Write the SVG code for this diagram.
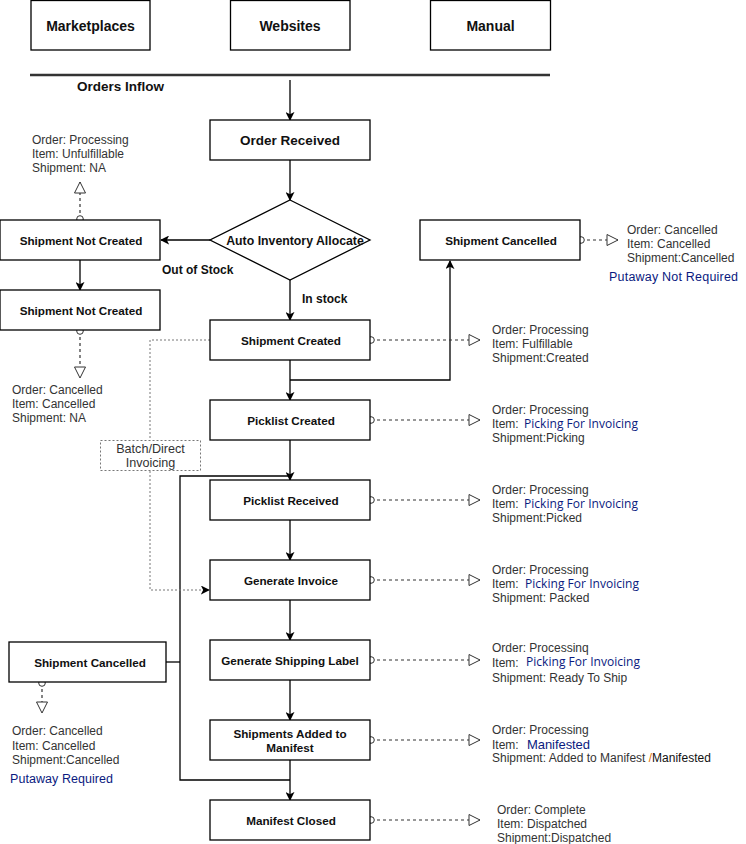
<svg xmlns="http://www.w3.org/2000/svg" width="746" height="844" viewBox="0 0 746 844">
<style>
.box{fill:#fff;stroke:#000;stroke-width:1.3}
.lbl{font-family:"Liberation Sans",Arial,sans-serif;font-weight:bold;font-size:11.7px;fill:#111;text-anchor:middle}
.big{font-size:14px}
.st{font-family:"Liberation Sans",Arial,sans-serif;font-size:12px;fill:#333}
.blue{font-family:"Open Sans","Noto Sans",sans-serif;font-size:12px;fill:#0a1a80}
.blue2{font-family:"Liberation Sans",Arial,sans-serif;font-size:12.5px;fill:#0a1a80}
.flow{fill:none;stroke:#000;stroke-width:1.3}
.dash{fill:none;stroke:#333;stroke-width:1.2;stroke-dasharray:3,3}
.dot{fill:none;stroke:#777;stroke-width:1;stroke-dasharray:2,2}
.bold{font-family:"Liberation Sans",Arial,sans-serif;font-weight:bold;font-size:12px;fill:#111}
</style>
<defs>
<marker id="arr" viewBox="0 0 10 10" refX="9" refY="5" markerWidth="9" markerHeight="9" markerUnits="userSpaceOnUse" orient="auto">
<path d="M0,0 L10,5 L0,10 L2.5,5 z" fill="#000"/>
</marker>
<marker id="tri" viewBox="0 0 13 13" refX="12" refY="6.5" markerWidth="13" markerHeight="13" markerUnits="userSpaceOnUse" orient="auto">
<path d="M1,1 L12,6.5 L1,12 z" fill="#fff" stroke="#333" stroke-width="1"/>
</marker>
<marker id="circ" viewBox="0 0 9 9" refX="4.5" refY="4.5" markerWidth="9" markerHeight="9" markerUnits="userSpaceOnUse" orient="auto">
<circle cx="4.5" cy="4.5" r="3.3" fill="#fff" stroke="#333" stroke-width="1"/>
</marker>
</defs>
<rect width="746" height="844" fill="#fff"/>

<g id="connectors">
<line x1="30" y1="75" x2="550" y2="75" stroke="#333" stroke-width="2.6"/>
<line class="flow" x1="290" y1="80" x2="290" y2="120" marker-end="url(#arr)"/>
<line class="flow" x1="290" y1="160" x2="290" y2="200" marker-end="url(#arr)"/>
<line class="flow" x1="210" y1="240" x2="161" y2="240" marker-end="url(#arr)"/>
<line class="flow" x1="80" y1="260" x2="80" y2="290" marker-end="url(#arr)"/>
<line class="flow" x1="290" y1="280" x2="290" y2="320" marker-end="url(#arr)"/>
<line class="flow" x1="290" y1="360" x2="290" y2="400" marker-end="url(#arr)"/>
<path class="flow" d="M290,380 H450 V261" marker-end="url(#arr)"/>
<line class="flow" x1="290" y1="440" x2="290" y2="480" marker-end="url(#arr)"/>
<path class="flow" d="M290,476 H180 V780 H290"/>
<line class="flow" x1="166" y1="662" x2="180" y2="662"/>
<line class="flow" x1="290" y1="520" x2="290" y2="560" marker-end="url(#arr)"/>
<line class="flow" x1="290" y1="600" x2="290" y2="640" marker-end="url(#arr)"/>
<line class="flow" x1="290" y1="680" x2="290" y2="720" marker-end="url(#arr)"/>
<line class="flow" x1="290" y1="760" x2="290" y2="800" marker-end="url(#arr)"/>
<path class="dot" d="M210,340 H150 V440"/>
<path class="dot" d="M150,471 V590 H209" marker-end="url(#arr)"/>
<line class="dash" x1="80" y1="219" x2="80" y2="182" marker-start="url(#circ)" marker-end="url(#tri)"/>
<line class="dash" x1="80" y1="331" x2="80" y2="378" marker-start="url(#circ)" marker-end="url(#tri)"/>
<line class="dash" x1="371" y1="340" x2="480" y2="340" marker-start="url(#circ)" marker-end="url(#tri)"/>
<line class="dash" x1="581" y1="240" x2="618" y2="240" marker-start="url(#circ)" marker-end="url(#tri)"/>
<line class="dash" x1="371" y1="420" x2="480" y2="420" marker-start="url(#circ)" marker-end="url(#tri)"/>
<line class="dash" x1="371" y1="500" x2="480" y2="500" marker-start="url(#circ)" marker-end="url(#tri)"/>
<line class="dash" x1="371" y1="580" x2="480" y2="580" marker-start="url(#circ)" marker-end="url(#tri)"/>
<line class="dash" x1="371" y1="660" x2="480" y2="660" marker-start="url(#circ)" marker-end="url(#tri)"/>
<line class="dash" x1="371" y1="740" x2="480" y2="740" marker-start="url(#circ)" marker-end="url(#tri)"/>
<line class="dash" x1="371" y1="820" x2="480" y2="820" marker-start="url(#circ)" marker-end="url(#tri)"/>
<line class="dash" x1="42" y1="683" x2="42" y2="713" marker-start="url(#circ)" marker-end="url(#tri)"/>
</g>

<g id="marketplaces"><rect class="box" x="31" y="0.5" width="119" height="49.5"/><text class="lbl big" x="90.5" y="31">Marketplaces</text></g>
<g id="websites"><rect class="box" x="230.5" y="0.5" width="119.5" height="49.5"/><text class="lbl big" x="290" y="31">Websites</text></g>
<g id="manual"><rect class="box" x="430.5" y="0.5" width="120" height="49.5"/><text class="lbl big" x="490.5" y="31">Manual</text></g>
<text class="bold" x="77" y="91" style="font-size:13.5px">Orders Inflow</text>

<g id="order-received"><rect class="box" x="210" y="120" width="160" height="40"/><text class="lbl" style="font-size:13.5px" x="290" y="145">Order Received</text></g>
<g id="auto-inventory"><polygon class="box" points="290,200 370,240 290,280 210,240"/><text class="lbl" style="font-size:12.3px" x="295" y="244.5">Auto Inventory Allocate</text></g>
<text class="bold" x="162" y="274">Out of Stock</text>
<text class="bold" x="302" y="303">In stock</text>

<g id="not-created-1"><rect class="box" x="0" y="220" width="160" height="40"/><text class="lbl" x="81" y="244.5">Shipment Not Created</text></g>
<g id="not-created-2"><rect class="box" x="0" y="290" width="160" height="40"/><text class="lbl" x="81" y="314.5">Shipment Not Created</text></g>
<text class="st" x="32" y="144">Order: Processing</text>
<text class="st" x="32" y="158">Item: Unfulfillable</text>
<text class="st" x="32" y="172">Shipment: NA</text>
<text class="st" x="12" y="394">Order: Cancelled</text>
<text class="st" x="12" y="408">Item: Cancelled</text>
<text class="st" x="12" y="422">Shipment: NA</text>

<g id="shipment-cancelled-right"><rect class="box" x="420" y="220" width="160" height="40"/><text class="lbl" x="501" y="244.5">Shipment Cancelled</text></g>
<text class="st" x="627" y="234">Order: Cancelled</text>
<text class="st" x="627" y="248">Item: Cancelled</text>
<text class="st" x="627" y="262">Shipment:Cancelled</text>
<text class="blue2" x="609" y="281" textLength="129">Putaway Not Required</text>

<g id="shipment-created"><rect class="box" x="210" y="320" width="160" height="40"/><text class="lbl" x="291" y="344.5">Shipment Created</text></g>
<text class="st" x="492" y="334">Order: Processing</text>
<text class="st" x="492" y="348">Item: Fulfillable</text>
<text class="st" x="492" y="362">Shipment:Created</text>

<g id="batch-direct"><rect x="100.5" y="440.5" width="100" height="30" fill="#fff" stroke="#777" stroke-width="1" stroke-dasharray="2,2"/><text class="st" x="150.5" y="453" text-anchor="middle" fill="#222" style="font-size:12.6px">Batch/Direct</text><text class="st" x="150.5" y="467" text-anchor="middle" fill="#222" style="font-size:12.6px">Invoicing</text></g>

<g id="picklist-created"><rect class="box" x="210" y="400" width="160" height="40"/><text class="lbl" x="291" y="424.5">Picklist Created</text></g>
<text class="st" x="492" y="414">Order: Processing</text>
<text class="st" x="492" y="428">Item:</text><text class="blue" x="524" y="428" textLength="114">Picking For Invoicing</text>
<text class="st" x="492" y="442">Shipment:Picking</text>

<g id="picklist-received"><rect class="box" x="210" y="480" width="160" height="40"/><text class="lbl" x="291" y="504.5">Picklist Received</text></g>
<text class="st" x="492" y="494">Order: Processing</text>
<text class="st" x="492" y="508">Item:</text><text class="blue" x="524" y="508" textLength="114">Picking For Invoicing</text>
<text class="st" x="492" y="522">Shipment:Picked</text>

<g id="generate-invoice"><rect class="box" x="210" y="560" width="160" height="40"/><text class="lbl" x="291" y="584.5">Generate Invoice</text></g>
<text class="st" x="492" y="574">Order: Processing</text>
<text class="st" x="492" y="588">Item:</text><text class="blue" x="525" y="588" textLength="114">Picking For Invoicing</text>
<text class="st" x="492" y="602">Shipment: Packed</text>

<g id="generate-shipping-label"><rect class="box" x="210" y="640" width="160" height="40"/><text class="lbl" x="290" y="664.5">Generate Shipping Label</text></g>
<text class="st" x="492" y="651.5">Order: Processinq</text>
<text class="st" x="492" y="666.5">Item:</text><text class="blue" x="526" y="666" textLength="114">Picking For Invoicing</text>
<text class="st" x="492" y="682">Shipment: Ready To Ship</text>

<g id="shipments-manifest"><rect class="box" x="210" y="720" width="160" height="40"/><text class="lbl" x="290" y="738">Shipments Added to</text><text class="lbl" x="290" y="752">Manifest</text></g>
<text class="st" x="492" y="734">Order: Processing</text>
<text class="st" x="492" y="748.5">Item:</text><text class="blue2" x="527" y="749" style="font-size:13px" textLength="63">Manifested</text>
<text class="st" x="492" y="762">Shipment: Added to Manifest <tspan fill="#e07000">/</tspan><tspan fill="#111">Manifested</tspan></text>

<g id="manifest-closed"><rect class="box" x="210" y="800" width="160" height="40"/><text class="lbl" x="291" y="824.5">Manifest Closed</text></g>
<text class="st" x="497" y="814">Order: Complete</text>
<text class="st" x="497" y="828">Item: Dispatched</text>
<text class="st" x="497" y="842">Shipment:Dispatched</text>

<g id="shipment-cancelled-left"><rect class="box" x="9" y="642" width="157" height="40"/><text class="lbl" x="90" y="666.5">Shipment Cancelled</text></g>
<text class="st" x="12" y="735">Order: Cancelled</text>
<text class="st" x="12" y="749.5">Item: Cancelled</text>
<text class="st" x="12" y="763.5">Shipment:Cancelled</text>
<text class="blue2" x="10" y="783" textLength="103">Putaway Required</text>
</svg>
